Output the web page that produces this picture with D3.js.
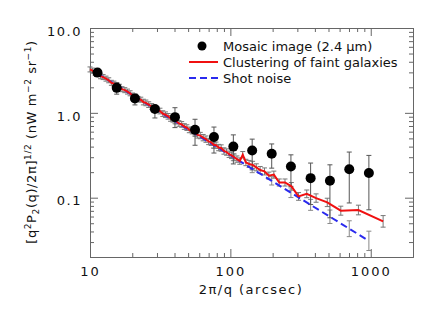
<!DOCTYPE html>
<html>
<head>
<meta charset="utf-8">
<script src="https://cdn.jsdelivr.net/npm/d3@7"></script>
<style>
body { margin: 0; background: #fff; }
text { font-family: "DejaVu Sans", sans-serif; fill: #111; }
</style>
</head>
<body>
<script>
// mosaic image (2.4 um) points
var mosaicX  = [11.3, 15.5, 20.9, 29, 40.3, 56, 76.4, 105, 143, 197, 270, 373, 512, 703, 970];
var mosaicY  = [2.98, 1.97, 1.48, 1.11, 0.89, 0.63, 0.52, 0.40, 0.36, 0.33, 0.233, 0.17, 0.158, 0.216, 0.195];
var mosaicHi = [3.15, 2.25, 1.63, 1.21, 1.15, 0.84, 0.68, 0.55, 0.49, 0.43, 0.32, 0.256, 0.244, 0.345, 0.315];
var mosaicLo = [2.8, 1.66, 1.24, 0.87, 0.67, 0.415, 0.336, 0.25, 0.213, 0.223, 0.136, 0.083, 0.058, 0.0867, 0.072];

// clustering of faint galaxies
var clusterX = [10, 10.4, 10.9, 11.4, 11.9, 12.4, 13.0, 13.6, 14.2, 14.8,
                15.5, 16.2, 16.9, 17.7, 18.5, 19.3, 20.1, 21, 22, 23,
                24, 25, 26.2, 27.5, 28.7, 30, 31.5, 33, 34.5, 36,
                37.5, 39, 41, 43, 45, 47, 49, 51, 53.5, 56,
                58.5, 61, 64, 67, 70, 73, 76, 79, 82.5, 86,
                90, 94, 98, 102, 106.5, 111.4, 116.7, 122.5, 129, 136,
                144, 153, 163, 175, 188, 204, 223, 245, 272, 306,
                350, 408, 490, 612, 817, 1225];
var clusterY = [3.25, 3.15, 2.95, 2.90, 2.70, 2.64, 2.53, 2.42, 2.26, 2.21,
                2.13, 2.03, 1.90, 1.85, 1.78, 1.70, 1.60, 1.56, 1.46, 1.43,
                1.34, 1.31, 1.25, 1.19, 1.12, 1.09, 1.05, 0.98, 0.95, 0.91,
                0.86, 0.84, 0.80, 0.75, 0.73, 0.69, 0.67, 0.63, 0.61, 0.59,
                0.55, 0.54, 0.51, 0.49, 0.46, 0.45, 0.42, 0.415, 0.39, 0.385,
                0.355, 0.345, 0.325, 0.315, 0.30, 0.285, 0.27, 0.321, 0.26, 0.25,
                0.244, 0.228, 0.212, 0.204, 0.182, 0.187, 0.151, 0.151, 0.136, 0.1035,
                0.111, 0.099, 0.088, 0.0703, 0.0716, 0.0526];
var clusterErr = [1.07, 1.07, 1.07, 1.07, 1.07, 1.07, 1.07, 1.07, 1.07, 1.07,
                  1.07, 1.07, 1.07, 1.07, 1.07, 1.07, 1.07, 1.07, 1.07, 1.07,
                  1.08, 1.08, 1.08, 1.08, 1.08, 1.08, 1.08, 1.08, 1.08, 1.08,
                  1.08, 1.08, 1.08, 1.08, 1.08, 1.08, 1.08, 1.08, 1.08, 1.08,
                  1.09, 1.09, 1.09, 1.09, 1.09, 1.09, 1.09, 1.09, 1.09, 1.09,
                  1.09, 1.09, 1.09, 1.09, 1.09, 1.09, 1.09, 1.09, 1.09, 1.1,
                  1.1, 1.1, 1.1, 1.1, 1.1, 1.1, 1.1, 1.1, 1.11, 1.11,
                  1.11, 1.12, 1.12, 1.13, 1.14, 1.17];

// shot noise, same bins as the mosaic
var shotY   = [2.91, 2.11, 1.556, 1.114, 0.796, 0.569, 0.415, 0.300, 0.219, 0.158, 0.1144, 0.0823, 0.0596, 0.0431, 0.0310];
var shotErr = [1.03, 1.04, 1.05, 1.06, 1.07, 1.08, 1.09, 1.10, 1.11, 1.12, 1.14, 1.16, 1.2, 1.24, 1.3];

var xTicks = [10, 100, 1000];
var yTicks = [0.1, 1, 10];
var yTickLabels = ["0.1", "1.0", "10.0"];
var legendLabels = ["Mosaic image (2.4 \u03bcm)", "Clustering of faint galaxies", "Shot noise"];

var width = 440, height = 315;
var margin = {left: 90, right: 27, top: 28, bottom: 58};

var svg = d3.select("body").append("svg")
    .attr("width", width)
    .attr("height", height);

var x = d3.scaleLog().domain([10, 2000]).range([margin.left, width - margin.right]);
var y = d3.scaleLog().domain([0.02, 10]).range([height - margin.bottom, margin.top]);

var axisColor = "#666";

function styleAxis(g) {
    g.selectAll("path, line").attr("stroke", axisColor);
    g.selectAll("text").style("font-size", "13px").attr("fill", "#111");
}

var xMinor = x.ticks().filter(function (d) { return xTicks.indexOf(d) < 0; });
var yMinor = y.ticks().filter(function (d) { return yTicks.indexOf(d) < 0; });

// bottom + top
svg.append("g").attr("transform", "translate(0," + y.range()[0] + ")")
    .call(d3.axisBottom(x).tickValues(xTicks).tickFormat(d3.format("d")).tickSizeInner(-8).tickSizeOuter(0).tickPadding(10))
    .call(styleAxis)
    .selectAll("text").style("letter-spacing", "2px");
svg.append("g").attr("transform", "translate(0," + y.range()[0] + ")")
    .call(d3.axisBottom(x).tickValues(xMinor).tickFormat("").tickSizeInner(-4).tickSizeOuter(0))
    .call(styleAxis);
svg.append("g").attr("transform", "translate(0," + y.range()[1] + ")")
    .call(d3.axisTop(x).tickValues(xTicks).tickFormat("").tickSizeInner(-8).tickSizeOuter(0))
    .call(styleAxis);
svg.append("g").attr("transform", "translate(0," + y.range()[1] + ")")
    .call(d3.axisTop(x).tickValues(xMinor).tickFormat("").tickSizeInner(-4).tickSizeOuter(0))
    .call(styleAxis);

// left + right
svg.append("g").attr("transform", "translate(" + x.range()[0] + ",0)")
    .call(d3.axisLeft(y).tickValues(yTicks).tickFormat(function (d, i) { return yTickLabels[i]; })
        .tickSizeInner(-8).tickSizeOuter(0).tickPadding(8))
    .call(styleAxis)
    .selectAll("text").attr("dy", "0.55em").style("letter-spacing", "1.5px");
svg.append("g").attr("transform", "translate(" + x.range()[0] + ",0)")
    .call(d3.axisLeft(y).tickValues(yMinor).tickFormat("").tickSizeInner(-4).tickSizeOuter(0))
    .call(styleAxis);
svg.append("g").attr("transform", "translate(" + x.range()[1] + ",0)")
    .call(d3.axisRight(y).tickValues(yTicks).tickFormat("").tickSizeInner(-8).tickSizeOuter(0))
    .call(styleAxis);
svg.append("g").attr("transform", "translate(" + x.range()[1] + ",0)")
    .call(d3.axisRight(y).tickValues(yMinor).tickFormat("").tickSizeInner(-4).tickSizeOuter(0))
    .call(styleAxis);

var plot = svg.append("g");
var cap = 2.5;

function errorBars(xs, lo, hi, color) {
    var g = plot.append("g").attr("stroke", color).attr("stroke-width", 1);
    xs.forEach(function (xv, i) {
        var px = x(xv);
        g.append("line").attr("x1", px).attr("x2", px).attr("y1", y(lo[i])).attr("y2", y(hi[i]));
        g.append("line").attr("x1", px - cap).attr("x2", px + cap).attr("y1", y(lo[i])).attr("y2", y(lo[i]));
        g.append("line").attr("x1", px - cap).attr("x2", px + cap).attr("y1", y(hi[i])).attr("y2", y(hi[i]));
    });
}

errorBars(clusterX,
    clusterY.map(function (v, i) { return v / clusterErr[i]; }),
    clusterY.map(function (v, i) { return v * clusterErr[i]; }), "#777");
errorBars(mosaicX,
    shotY.map(function (v, i) { return v / shotErr[i]; }),
    shotY.map(function (v, i) { return v * shotErr[i]; }), "#888");
errorBars(mosaicX, mosaicLo, mosaicHi, "#555");

var line = d3.line()
    .x(function (d) { return x(d[0]); })
    .y(function (d) { return y(d[1]); });

plot.append("path")
    .attr("d", line(d3.zip(mosaicX, shotY)))
    .attr("fill", "none")
    .attr("stroke", "#2a2aee")
    .attr("stroke-width", 2)
    .attr("stroke-dasharray", "7,4");

plot.append("path")
    .attr("d", line(d3.zip(clusterX, clusterY)))
    .attr("fill", "none")
    .attr("stroke", "#f01010")
    .attr("stroke-width", 2);

plot.selectAll("circle.dot")
    .data(d3.zip(mosaicX, mosaicY))
    .enter().append("circle")
    .attr("class", "dot")
    .attr("cx", function (d) { return x(d[0]); })
    .attr("cy", function (d) { return y(d[1]); })
    .attr("r", 5)
    .attr("fill", "#000");

// legend
var legend = svg.append("g").attr("transform", "translate(189,46)");
legend.append("circle").attr("cx", 13).attr("cy", 0).attr("r", 4.5).attr("fill", "#000");
legend.append("line").attr("x1", 0).attr("x2", 29).attr("y1", 16).attr("y2", 16)
    .attr("stroke", "#f01010").attr("stroke-width", 2);
legend.append("line").attr("x1", 0).attr("x2", 29).attr("y1", 32).attr("y2", 32)
    .attr("stroke", "#2a2aee").attr("stroke-width", 2).attr("stroke-dasharray", "7,4");
legend.selectAll("text.lab")
    .data(legendLabels)
    .enter().append("text")
    .attr("class", "lab")
    .attr("x", 34)
    .attr("y", function (d, i) { return i * 16; })
    .attr("dy", "0.35em")
    .style("font-size", "13px")
    .text(function (d) { return d; });

// axis titles
svg.append("text")
    .attr("x", 251).attr("y", 294)
    .attr("text-anchor", "middle")
    .style("font-size", "13px")
    .style("letter-spacing", "1.5px")
    .text("2\u03c0/q (arcsec)");

var yt = svg.append("text")
    .attr("transform", "translate(36,142) rotate(-90)")
    .attr("text-anchor", "middle")
    .style("font-size", "13px")
    .style("letter-spacing", "0.6px");
yt.append("tspan").text("[q");
yt.append("tspan").attr("dy", -5).style("font-size", "9px").text("2");
yt.append("tspan").attr("dy", 5).text("P");
yt.append("tspan").attr("dy", 3).style("font-size", "9px").text("2");
yt.append("tspan").attr("dy", -3).text("(q)/2\u03c0]");
yt.append("tspan").attr("dy", -5).style("font-size", "9px").text("1/2");
yt.append("tspan").attr("dy", 5).text(" (nW  m");
yt.append("tspan").attr("dy", -5).style("font-size", "9px").text("\u22122");
yt.append("tspan").attr("dy", 5).text("  sr");
yt.append("tspan").attr("dy", -5).style("font-size", "9px").text("\u22121");
yt.append("tspan").attr("dy", 5).text(")");
</script>
</body>
</html>
